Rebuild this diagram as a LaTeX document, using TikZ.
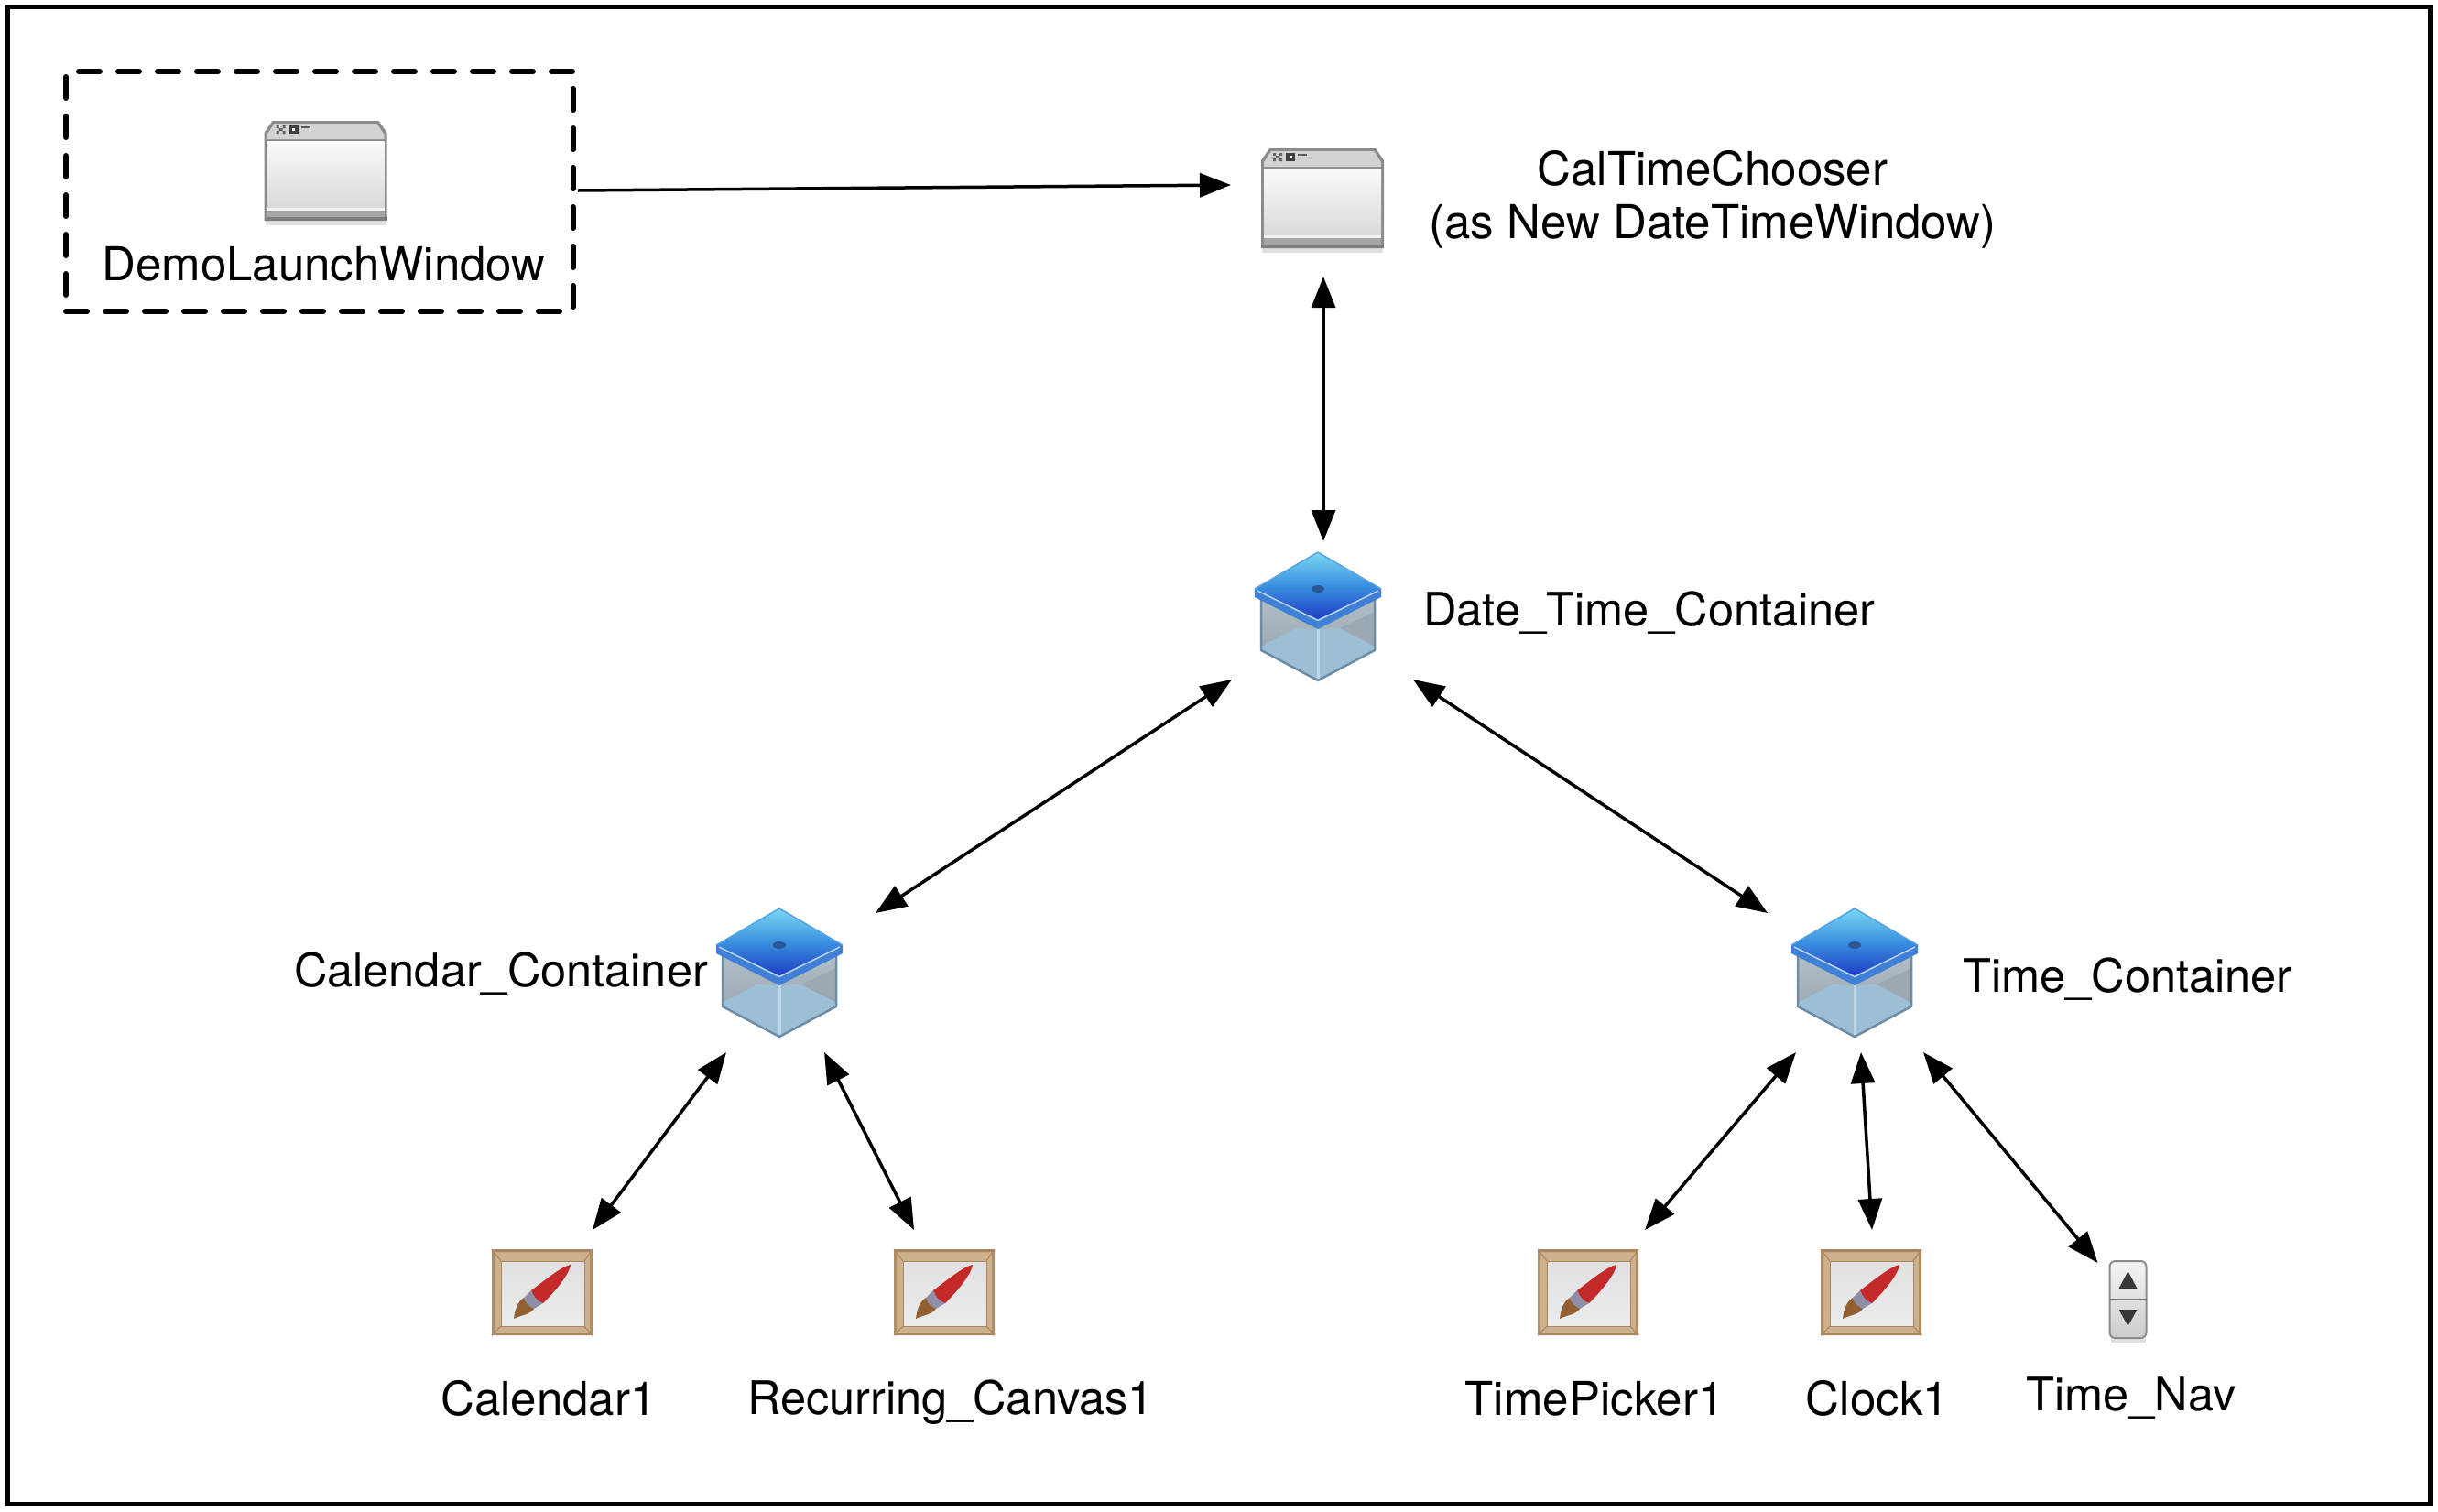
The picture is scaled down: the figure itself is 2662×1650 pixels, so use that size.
\documentclass[tikz,border=0pt]{standalone}
\usepackage{fontspec}
\setmainfont{TeX Gyre Heros}
\usetikzlibrary{arrows.meta}
\definecolor{winedge}{HTML}{8C8C8C}
\definecolor{wintitle}{HTML}{D2D2D2}
\definecolor{winfoot}{HTML}{A6A6A6}
\definecolor{lidtop}{HTML}{7AD8F4}
\definecolor{lidmid}{HTML}{3A90E0}
\definecolor{lidbot}{HTML}{1E3EC4}
\definecolor{lidrim}{HTML}{3F7FD6}
\definecolor{boxbase}{HTML}{9DBFD6}
\definecolor{boxback}{HTML}{A9B8C2}
\definecolor{boxedge}{HTML}{6F8CA6}
\definecolor{wood}{HTML}{CDB08C}
\definecolor{woodedge}{HTML}{A8855E}
\definecolor{canvasbg}{HTML}{ECECEC}
\definecolor{brushred}{HTML}{C42A2A}
\tikzset{
  x=1pt,y=-1pt,
  iconnode/.style={inner sep=0pt,outer sep=0pt,minimum width=#1},
  lbl/.style={inner sep=0pt,font=\fontsize{51}{58}\selectfont,align=center},
  lblu/.style={inner sep=0pt,font=\fontsize{50.5}{58}\selectfont,align=center},
  link/.style={line width=3.5pt,-{Triangle[length=34pt,width=26pt]}},
  twoway/.style={line width=3.5pt,{Triangle[length=34pt,width=26pt]}-{Triangle[length=34pt,width=26pt]}},
  winicon/.pic={
    \fill[black!12] (-66,50) rectangle (66,59);
    \fill[winedge] (-67,-42) -- (-67,54) -- (67,54) -- (67,-42) -- (58,-55) -- (-58,-55) -- cycle;
    \fill[wintitle] (-64,-40) -- (-56,-52) -- (56,-52) -- (64,-40) -- (64,-35) -- (-64,-35) -- cycle;
    \shade[top color=white!98!black,bottom color=white!85!black] (-64,-33) rectangle (64,40);
    \fill[white!95!black] (-64,40) rectangle (64,43);
    \fill[winfoot] (-64,43) rectangle (64,50);
    \fill[winedge!90!black] (-67,50) rectangle (67,54);
    \fill[white!40!black] (-54,-50) rectangle (-51,-47) (-47,-50) rectangle (-44,-47) (-54,-44) rectangle (-51,-41) (-47,-44) rectangle (-44,-41) (-51,-47) rectangle (-47,-44);
    \fill[white!25!black] (-40,-50) rectangle (-30,-41);
    \fill[white] (-36.5,-47) rectangle (-33.5,-44);
    \fill[white!35!black] (-27,-49) rectangle (-17,-47);
  },
  boxicon/.pic={
    % box body
    \shade[top color=boxback!90!white,bottom color=boxback!85!black] (-62,-22) -- (0,14) -- (62,-22) -- (62,37) -- (0,70) -- (-62,37) -- cycle;
    \fill[boxbase] (-62,33) -- (-24,13) -- (0,14) -- (24,13) -- (62,33) -- (62,37) -- (0,70) -- (-62,37) -- cycle;
    \fill[boxback!92!black] (62,-5) -- (62,32) -- (24,13) -- cycle;
    \fill[boxbase!65!white] (-1.5,14) rectangle (1.5,70);
    \draw[boxedge,line width=2.5pt,line join=round] (-62,-18) -- (-62,37) -- (0,70) -- (62,37) -- (62,-18);
    % lid
    \fill[lidrim] (-69,-30) -- (-69,-21) -- (0,14) -- (69,-21) -- (69,-30) -- cycle;
    \shade[top color=lidtop,bottom color=lidbot,middle color=lidmid] (0,-70) -- (69,-30) -- (0,3) -- (-69,-30) -- cycle;
    \draw[white!65!lidrim,line width=1.5pt] (-66,-28) -- (0,4.5) -- (66,-28);
    \draw[lidrim!60!lidtop,line width=1.5pt,line join=round] (-69,-30) -- (0,-70) -- (69,-30);
    \fill[lidrim!70!black] (0,-30) ellipse (7pt and 4pt);
  },
  canvasicon/.pic={
    \fill[wood] (-55,-47) rectangle (55,47);
    \fill[woodedge] (-55,-47) rectangle (55,-44) (-55,47) rectangle (55,44);
    \fill[woodedge!80!wood] (-55,-47) rectangle (-52,47) (52,-47) rectangle (55,47);
    \shade[top color=canvasbg!95!black,bottom color=canvasbg] (-45,-34) rectangle (46,37);
    \draw[woodedge,line width=1pt] (-45,-34) rectangle (46,37);
    \draw[woodedge,line width=1pt] (-55,-47) -- (-45,-34) (55,-47) -- (46,-34) (-55,47) -- (-45,37) (55,47) -- (46,37);
    \fill[brushred] (31,-30) .. controls (20,-28) and (-2,-9) .. (-12,-2) .. controls (-10,5) and (-4,11) .. (1,12) .. controls (9,4) and (29,-17) .. (31,-30) -- cycle;
    \fill[white!62!black!90!blue] (-12,-2) .. controls (-10,5) and (-4,11) .. (1,12) -- (-9,18) .. controls (-15,15) and (-19,11) .. (-20,6) -- cycle;
    \fill[brown!75!black] (-20,6) .. controls (-19,11) and (-15,15) .. (-9,18) .. controls (-14,25) and (-24,25) .. (-31,29) .. controls (-30,20) and (-27,10) .. (-20,6) -- cycle;
  },
  navicon/.pic={
    \fill[black!12] (-19,41) rectangle (19,46);
    \shade[top color=white!96!black,bottom color=white!80!black,rounded corners=6pt,draw=winedge,line width=2pt] (-20,-43) rectangle (20,41);
    \draw[white!45!black,line width=1.5pt] (-20,-1) -- (20,-1);
    \fill[white!22!black] (0,-32) -- (10,-13) -- (-10,-13) -- cycle;
    \fill[white!22!black] (0,28) -- (10,10) -- (-10,10) -- cycle;
  }
}
\begin{document}
\begin{tikzpicture}
\useasboundingbox (0,0) rectangle (2662,1650);
\fill[white] (0,0) rectangle (2662,1650);
\draw[line width=4.5pt] (8.5,7.5) rectangle (2653.5,1642);
\node[inner sep=0pt,minimum width=554pt,minimum height=262pt,draw,line width=6pt,line cap=round,dash pattern=on 23pt off 20pt] (demo) at (349,209) {};

% icon nodes
\node[iconnode=134pt,minimum height=110pt] (wina) at (355.5,187) {};
\node[iconnode=134pt,minimum height=110pt] (winb) at (1444,217) {};
\node[iconnode=138pt,minimum height=140pt] (dtc) at (1439,673) {};
\node[iconnode=138pt,minimum height=140pt] (calc) at (851,1062) {};
\node[iconnode=138pt,minimum height=140pt] (timec) at (2025,1062) {};
\node[iconnode=110pt,minimum height=94pt] (cala) at (592,1411) {};
\node[iconnode=110pt,minimum height=94pt] (rec) at (1031,1411) {};
\node[iconnode=110pt,minimum height=94pt] (tpick) at (1734,1411) {};
\node[iconnode=110pt,minimum height=94pt] (clock) at (2043,1411) {};
\node[iconnode=41pt,minimum height=86pt] (nav) at (2323.5,1420) {};

\pic at (wina) {winicon};
\pic at (winb) {winicon};
\pic at (dtc) {boxicon};
\pic at (calc) {boxicon};
\pic at (timec) {boxicon};
\pic at (cala) {canvasicon};
\pic at (rec) {canvasicon};
\pic at (tpick) {canvasicon};
\pic at (clock) {canvasicon};
\pic at (nav) {navicon};

% labels
\node[lbl] (ldemo) at (353.5,288) {DemoLaunchWindow};
\node[lbl] (lwinb) at (1870,217.5) {CalTimeChooser\\(as New DateTimeWindow)};
\node[lblu] (ldtc) at (1801,669) {Date\_Time\_Container};
\node[lblu] (lcalc) at (547,1063) {Calendar\_Container};
\node[lblu] (ltimec) at (2323,1069) {Time\_Container};
\node[lbl] (lcala) at (599,1527) {Calendar1};
\node[lblu] (lrec) at (1038,1531) {Recurring\_Canvas1};
\node[lbl] (ltpick) at (1741,1527) {TimePicker1};
\node[lbl] (lclock) at (2050,1527) {Clock1};
\node[lblu] (lnav) at (2327,1527) {Time\_Nav};

% connectors
\draw[link] ([xshift=2pt,yshift=1pt]demo.east) -- ([xshift=-33pt,yshift=15pt]winb.west);
\draw[twoway] ([xshift=1pt,yshift=-30pt]winb.south) -- ([xshift=6pt,yshift=12pt]dtc.north);
\draw[twoway] ([xshift=-94pt,yshift=1pt]dtc.south) -- ([xshift=105pt,yshift=-5pt]calc.north);
\draw[twoway] ([xshift=104pt,yshift=1pt]dtc.south) -- ([xshift=-95pt,yshift=-5pt]timec.north);
\draw[twoway] ([xshift=-58pt,yshift=-17pt]calc.south) -- ([xshift=55pt,yshift=21pt]cala.north);
\draw[twoway] ([xshift=49pt,yshift=-17pt]calc.south) -- ([xshift=-33pt,yshift=21pt]rec.north);
\draw[twoway] ([xshift=-64pt,yshift=-17pt]timec.south) -- ([xshift=62pt,yshift=21pt]tpick.north);
\draw[twoway] ([xshift=7pt,yshift=-17pt]timec.south) -- ([xshift=1pt,yshift=21pt]clock.north);
\draw[twoway] ([xshift=75pt,yshift=-17pt]timec.south) -- ([xshift=-33pt,yshift=-2pt]nav.north);
\end{tikzpicture}
\end{document}
